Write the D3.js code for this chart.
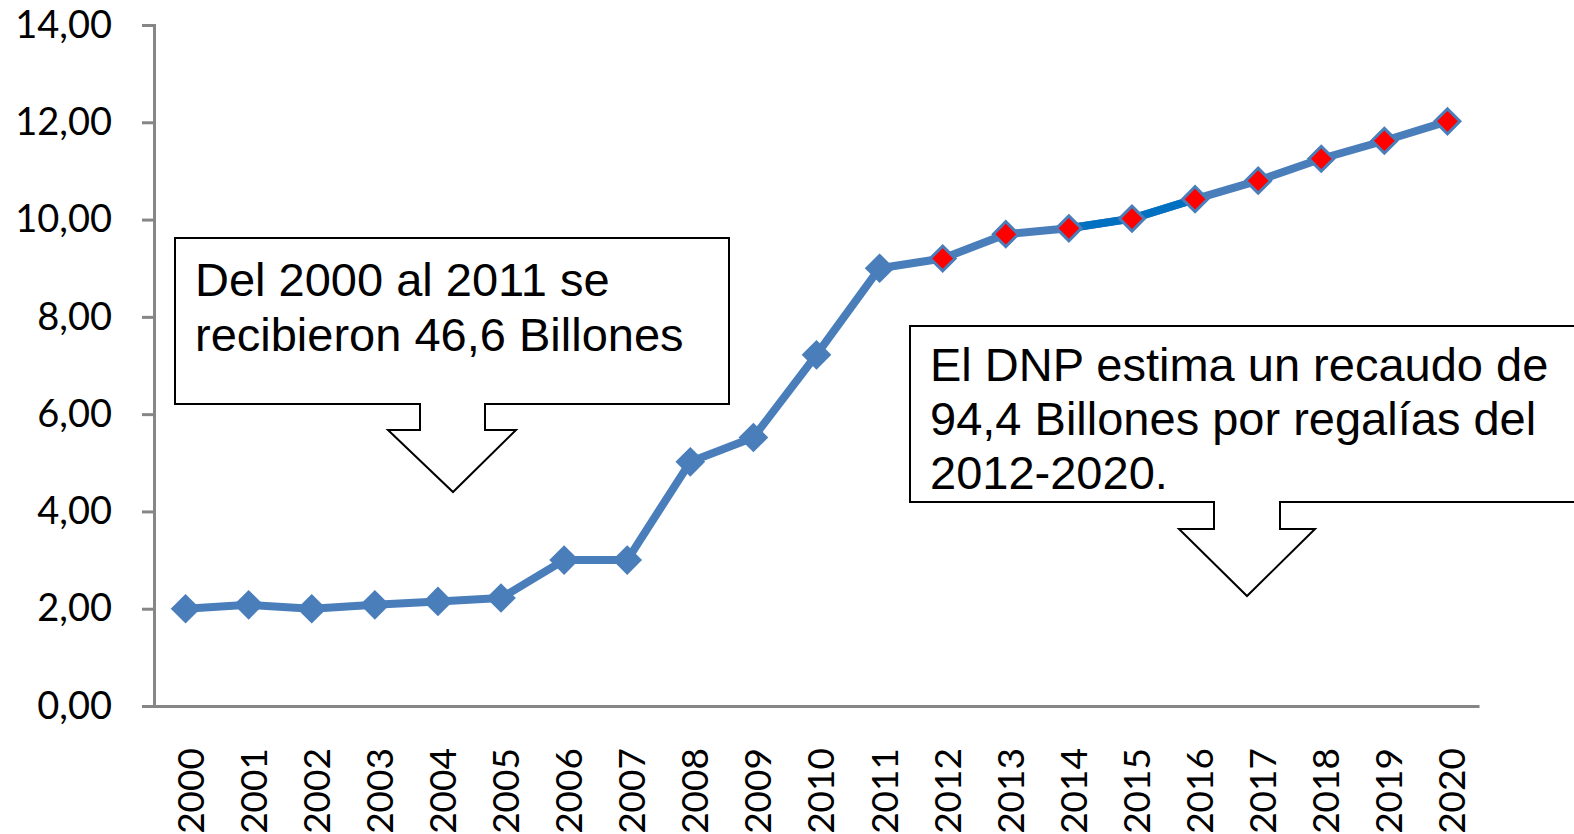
<!DOCTYPE html>
<html>
<head>
<meta charset="utf-8">
<script src="https://cdn.jsdelivr.net/npm/d3@7"></script>
<style>
  html, body { margin: 0; padding: 0; background: #fff; overflow: hidden; }
  svg { display: block; }
</style>
</head>
<body>
<div id="chart"></div>
<script>
// Regalías recibidas / estimadas (billones)
const years = ['2000', '2001', '2002', '2003', '2004', '2005', '2006', '2007', '2008', '2009', '2010',
    '2011', '2012', '2013', '2014', '2015', '2016', '2017', '2018', '2019', '2020'];
const values = [2.00, 2.08, 2.00, 2.08, 2.15, 2.22, 3.00, 3.00, 5.02, 5.52, 7.22,
    9.00, 9.20, 9.70, 9.82, 10.02, 10.42, 10.80, 11.25, 11.62, 12.02];
const projectedYears = ['2012', '2013', '2014', '2015', '2016', '2017', '2018', '2019', '2020'];
const darkSegments = [['2014', '2015'], ['2015', '2016']];
const yTicks = [0, 2, 4, 6, 8, 10, 12, 14];

const noteLeft = ['Del 2000 al 2011 se', 'recibieron 46,6 Billones'];
const noteRight = ['El DNP estima un recaudo de', '94,4 Billones por regalías del', '2012-2020.'];

const width = 1574;
const height = 834;
const margin = { top: 25, right: 95, bottom: 128, left: 154 };

const data = years.map((y, i) => ({ year: y, value: values[i] }));

const svg = d3.select('#chart').append('svg')
    .attr('width', width)
    .attr('height', height);

const x = d3.scaleBand()
    .domain(years)
    .range([margin.left, width - margin.right]);

const y = d3.scaleLinear()
    .domain([0, 14])
    .range([height - margin.bottom, margin.top]);

const cx = d => x(d.year) + x.bandwidth() / 2;

// y axis
const yAxis = svg.append('g')
    .attr('transform', `translate(${margin.left},0)`)
    .call(d3.axisLeft(y).tickValues(yTicks).tickSize(12).tickPadding(30)
        .tickFormat(d => d3.format('.2f')(d).replace('.', ',')));
yAxis.select('.domain').attr('stroke', '#868686').attr('stroke-width', 3);
yAxis.selectAll('.tick line').attr('stroke', '#868686').attr('stroke-width', 3);
yAxis.selectAll('.tick text')
    .attr('fill', '#000')
    .style('font-family', 'Lato, "Open Sans", sans-serif')
    .style('font-size', '38px');

// x axis
const xAxis = svg.append('g')
    .attr('transform', `translate(0,${y(0)})`)
    .call(d3.axisBottom(x).tickSize(0).tickSizeOuter(0));
xAxis.select('.domain').attr('stroke', '#868686').attr('stroke-width', 3);
xAxis.selectAll('.tick text')
    .attr('fill', '#000')
    .style('font-family', 'Lato, "Open Sans", sans-serif')
    .style('font-size', '37px')
    .attr('text-anchor', 'end')
    .attr('transform', 'translate(5,42) rotate(-90)')
    .attr('x', 0)
    .attr('y', 0)
    .attr('dy', '0.35em');

// line
const line = d3.line()
    .x(cx)
    .y(d => y(d.value));

svg.append('path')
    .datum(data)
    .attr('fill', 'none')
    .attr('stroke', '#4a7ebb')
    .attr('stroke-width', 8)
    .attr('stroke-linejoin', 'round')
    .attr('d', line);

svg.selectAll('.dark-seg')
    .data(darkSegments)
    .join('path')
    .attr('class', 'dark-seg')
    .attr('fill', 'none')
    .attr('stroke', '#0070c0')
    .attr('stroke-width', 8)
    .attr('d', seg => line(seg.map(yr => data.find(d => d.year === yr))));

// markers
const diamond = d3.symbol(d3.symbolSquare, 440);
const diamondSmall = d3.symbol(d3.symbolSquare, 310);

svg.selectAll('.pt')
    .data(data)
    .join('path')
    .attr('class', 'pt')
    .attr('transform', d => `translate(${cx(d)},${y(d.value)}) rotate(45)`)
    .attr('d', d => projectedYears.includes(d.year) ? diamondSmall() : diamond())
    .attr('fill', d => projectedYears.includes(d.year) ? '#ff0000' : '#4a7ebb')
    .attr('stroke', '#4a7ebb')
    .attr('stroke-width', d => projectedYears.includes(d.year) ? 3 : 0);

// callouts
function callout(box, stem, head, tip, lines, baseline, lineHeight) {
    const p = d3.path();
    p.moveTo(box.x0, box.y0);
    p.lineTo(box.x1, box.y0);
    p.lineTo(box.x1, box.y1);
    p.lineTo(stem.x1, box.y1);
    p.lineTo(stem.x1, stem.y);
    p.lineTo(head.x1, stem.y);
    p.lineTo(tip.x, tip.y);
    p.lineTo(head.x0, stem.y);
    p.lineTo(stem.x0, stem.y);
    p.lineTo(stem.x0, box.y1);
    p.lineTo(box.x0, box.y1);
    p.closePath();

    svg.append('path')
        .attr('d', p.toString())
        .attr('fill', '#fff')
        .attr('stroke', '#000')
        .attr('stroke-width', 2);

    svg.append('g')
        .selectAll('text')
        .data(lines)
        .join('text')
        .attr('x', box.x0 + 20)
        .attr('y', (d, i) => baseline + i * lineHeight)
        .attr('fill', '#000')
        .style('font-family', '"Liberation Sans", Arial, sans-serif')
        .style('font-size', '47px')
        .text(d => d);
}

callout({ x0: 175, y0: 238, x1: 729, y1: 404 },
    { x0: 420, x1: 485, y: 430 },
    { x0: 388, x1: 516 },
    { x: 453, y: 492 },
    noteLeft, 296, 55);

callout({ x0: 910, y0: 326, x1: 1590, y1: 502 },
    { x0: 1214, x1: 1280, y: 529 },
    { x0: 1179, x1: 1315 },
    { x: 1247, y: 596 },
    noteRight, 381, 54);
</script>
</body>
</html>
